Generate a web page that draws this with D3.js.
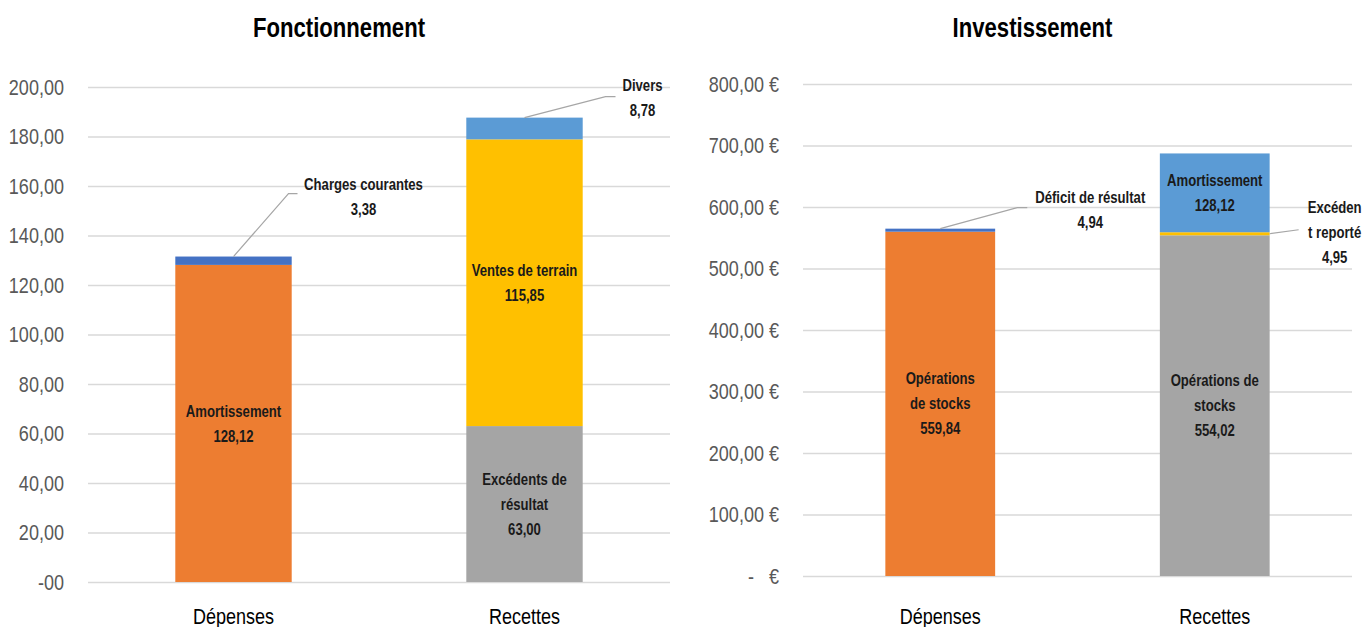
<!DOCTYPE html>
<html>
<head>
<meta charset="utf-8">
<script src="https://cdn.jsdelivr.net/npm/d3@7/dist/d3.min.js"></script>
<style>
  html, body { margin: 0; padding: 0; background: #fff; }
  svg { display: block; }
  text { font-family: "Liberation Sans", Arial, sans-serif; }
</style>
</head>
<body>
<svg id="chart" width="1366" height="627"></svg>
<script>
// ---------------- DATA ----------------
const categories = ["Dépenses", "Recettes"];

// Fonctionnement (stack order bottom -> top)
const fonctTitle = "Fonctionnement";
const fonctSeries = ["Amortissement", "Charges courantes", "Excédents de résultat", "Ventes de terrain", "Divers"];
const fonctValues = [
  [128.12, 0],
  [3.38, 0],
  [0, 63.00],
  [0, 115.85],
  [0, 8.78]
];
const fonctTicks = [0, 20, 40, 60, 80, 100, 120, 140, 160, 180, 200];

// Investissement (stack order bottom -> top)
const investTitle = "Investissement";
const investSeries = ["Opérations de stocks (D)", "Déficit de résultat", "Opérations de stocks (R)", "Excédent reporté", "Amortissement"];
const investValues = [
  [559.84, 0],
  [4.94, 0],
  [0, 554.02],
  [0, 4.95],
  [0, 128.12]
];
const investTicks = [0, 100, 200, 300, 400, 500, 600, 700, 800];

// ---------------- STYLE / LAYOUT ----------------
const C = { orange: "#ED7D31", dblue: "#4472C4", gray: "#A5A5A5", yellow: "#FFC000", lblue: "#5B9BD5" };
const fonctColors = [C.orange, C.dblue, C.gray, C.yellow, C.lblue];
const investColors = [C.orange, C.dblue, C.gray, C.yellow, C.lblue];

// Label text lines (wrapping as in the reference)
const fonctLabelLines = [
  ["Amortissement"], ["Charges courantes"], ["Excédents de", "résultat"], ["Ventes de terrain"], ["Divers"]
];
const investLabelLines = [
  ["Opérations", "de stocks"], ["Déficit de résultat"], ["Opérations de", "stocks"], ["Excéden", "t reporté"], ["Amortissement"]
];
// Callouts for thin segments: anchor on segment, elbow + end offsets, text centre offset
const fonctCallouts = {
  1: { anchor: "top", elbow: [55, -63], end: [64, -63], text: [130, -60] },
  4: { anchor: "top", elbow: [81, -21], end: [91, -21], text: [118, -20] }
};
const investCallouts = {
  1: { anchor: "top", elbow: [77, -21], end: [87, -21], text: [150, -19] },
  3: { anchor: "right", elbow: [29, -4], end: [29, -4], text: [65, -1] }
};

const SX = 0.82; // horizontal condensing (narrow, Calibri-like look)

const loc = d3.formatLocale({ decimal: ",", thousands: "\u00a0", grouping: [3], currency: ["", "\u00a0€"] });
const f2 = loc.format(",.2f");

const svg = d3.select("#chart");

function narrow(sel, x, y) {
  return sel.attr("transform", `translate(${x},${y}) scale(${SX},1)`);
}

function drawChart(cfg) {
  const g = svg.append("g");
  const x = d3.scaleBand().domain(categories).range([cfg.x0, cfg.x1]).paddingInner(0.6).paddingOuter(0.3);
  const y = d3.scaleLinear().domain([0, cfg.ymax]).range([cfg.yb, cfg.yt]);

  // title
  narrow(g.append("text"), (cfg.x0 + cfg.x1) / 2 + cfg.titleDx, 37)
    .attr("text-anchor", "middle").attr("font-size", 27).attr("font-weight", "bold").attr("fill", "#000")
    .text(cfg.title);

  // y axis with gridlines
  const ax = d3.axisLeft(y).tickValues(cfg.ticks).tickSize(-(cfg.x1 - cfg.x0)).tickPadding(24)
    .tickFormat(cfg.tickFormat);
  const ag = g.append("g").attr("transform", `translate(${cfg.x0},0)`).call(ax);
  ag.select(".domain").remove();
  ag.selectAll(".tick line").attr("stroke", "#D9D9D9").attr("stroke-width", 1.5);
  ag.selectAll(".tick text").attr("fill", "#595959").attr("font-size", 22)
    .style("font-family", '"Liberation Sans", Arial, sans-serif')
    .attr("x", 0).attr("transform", `translate(-24,0) scale(${SX},1)`);

  // stack
  const table = categories.map((c, ci) => {
    const o = { cat: c };
    cfg.series.forEach((s, si) => o[s] = cfg.values[si][ci]);
    return o;
  });
  const stacked = d3.stack().keys(cfg.series)(table);

  stacked.forEach((layer, si) => {
    layer.forEach((d, ci) => {
      const v = d[1] - d[0];
      if (v <= 0) return;
      const bx = x(categories[ci]), bw = x.bandwidth();
      g.append("rect").attr("x", bx).attr("y", y(d[1])).attr("width", bw)
        .attr("height", y(d[0]) - y(d[1])).attr("fill", cfg.colors[si]);

      const lines = cfg.labelLines[si].concat([f2(v)]);
      const co = cfg.callouts[si];
      let cx, cy;
      if (co) {
        const ax0 = co.anchor === "top" ? bx + bw / 2 : bx + bw;
        const ay0 = co.anchor === "top" ? y(d[1]) : (y(d[0]) + y(d[1])) / 2;
        g.append("polyline")
          .attr("points", [[ax0, ay0], [ax0 + co.elbow[0], ay0 + co.elbow[1]], [ax0 + co.end[0], ay0 + co.end[1]]].map(p => p.join(",")).join(" "))
          .attr("fill", "none").attr("stroke", "#A6A6A6").attr("stroke-width", 1.2);
        cx = ax0 + co.text[0]; cy = ay0 + co.text[1];
      } else {
        cx = bx + bw / 2; cy = (y(d[0]) + y(d[1])) / 2;
      }
      const lh = 25;
      const t = narrow(g.append("text"), cx, cy).attr("text-anchor", "middle").attr("font-size", 16)
        .attr("font-weight", "bold").attr("fill", "#1a1a1a");
      lines.forEach((ln, i) => {
        t.append("tspan").attr("x", 0).attr("y", (i - (lines.length - 1) / 2) * lh)
          .attr("dy", "0.35em").text(ln);
      });
    });
  });

  // category labels
  categories.forEach(c => {
    narrow(g.append("text"), x(c) + x.bandwidth() / 2, 624)
      .attr("text-anchor", "middle").attr("font-size", 22).attr("fill", "#000").text(c);
  });
}

drawChart({
  title: fonctTitle, titleDx: -40, x0: 88, x1: 670, yb: 582, yt: 87, ymax: 200, ticks: fonctTicks,
  tickFormat: d => d === 0 ? "-00" : f2(d),
  series: fonctSeries, values: fonctValues, colors: fonctColors, labelLines: fonctLabelLines, callouts: fonctCallouts
});
drawChart({
  title: investTitle, titleDx: -45, x0: 803, x1: 1352, yb: 576, yt: 84, ymax: 800, ticks: investTicks,
  tickFormat: d => d === 0 ? "-\u00a0\u00a0\u00a0€" : f2(d) + "\u00a0€",
  series: investSeries, values: investValues, colors: investColors, labelLines: investLabelLines, callouts: investCallouts
});
</script>
</body>
</html>
